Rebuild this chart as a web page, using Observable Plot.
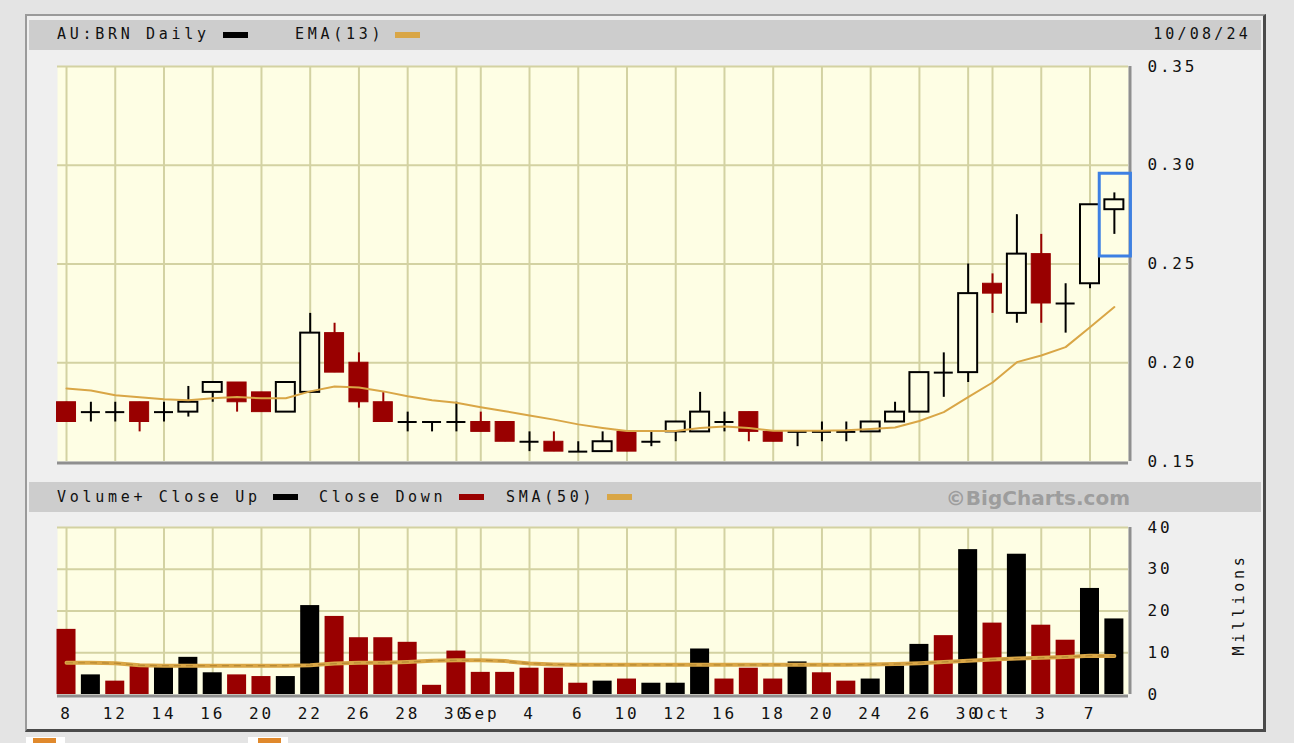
<!DOCTYPE html>
<html>
<head>
<meta charset="utf-8">
<script src="https://cdn.jsdelivr.net/npm/d3@7"></script>
<script src="https://cdn.jsdelivr.net/npm/@observablehq/plot@0.6"></script>
<style>
  html, body { margin: 0; padding: 0; background: #e4e4e4; }
  #wrap { position: relative; width: 1294px; height: 743px; overflow: hidden; background: #e4e4e4; }
  .frame { position: absolute; left: 25px; top: 14px; width: 1236px; height: 713px; background: #efefef;
           border-left: 2px solid #9a9a9a; border-top: 2px solid #9a9a9a; border-right: 3px solid #4a4a4a; border-bottom: 3px solid #4a4a4a; }
  .bar { position: absolute; left: 29px; width: 1232px; height: 30px; background: #cdcdcd; }
  .lbl { position: absolute; font-family: "DejaVu Sans Mono", monospace; font-size: 15px; line-height: 1; letter-spacing: 3.7px; color: #111; white-space: nowrap; }
  .sw { position: absolute; height: 6px; width: 25px; }
  .copy { position: absolute; font-family: "DejaVu Sans", sans-serif; font-weight: bold; font-size: 20px; line-height: 1; color: #9d9d9d; white-space: nowrap; }
  .chart { position: absolute; left: 0; }
  .chart text { font-family: "DejaVu Sans Mono", monospace; font-size: 16px; letter-spacing: 2.8px; fill: #111; }
  .icon { position: absolute; top: 737px; height: 8px; background: #fff; }
  .icon i { position: absolute; top: 1px; height: 8px; background: #e0892c; }
</style>
</head>
<body>
<div id="wrap">
  <div class="frame"></div>
  <div class="bar" style="top:20px"></div>
  <div class="bar" style="top:482px"></div>

  <div class="lbl" style="left:57px;top:27px">AU:BRN Daily</div>
  <div class="sw" style="left:223px;top:32px;background:#000"></div>
  <div class="lbl" style="left:295px;top:27px">EMA(13)</div>
  <div class="sw" style="left:395px;top:32px;background:#d9a646"></div>
  <div class="lbl" style="right:43px;top:27px;letter-spacing:3.2px">10/08/24</div>

  <div class="lbl" style="left:57px;top:490px">Volume+ Close Up</div>
  <div class="sw" style="left:273px;top:494px;background:#000"></div>
  <div class="lbl" style="left:319px;top:490px">Close Down</div>
  <div class="sw" style="left:459px;top:494px;background:#990000"></div>
  <div class="lbl" style="left:506px;top:490px">SMA(50)</div>
  <div class="sw" style="left:607px;top:494px;background:#d9a646"></div>
  <div class="copy" style="right:164px;top:488px">©BigCharts.com</div>

  <div class="lbl" style="left:1188px;top:597px;transform:rotate(-90deg);transform-origin:50% 50%;width:102px;text-align:center">Millions</div>

  <div class="icon" style="left:26px;width:39px"><i style="left:7px;width:23px"></i></div>
  <div class="icon" style="left:248px;width:40px"><i style="left:10px;width:23px"></i></div>
</div>
<script>
// ---------------- data ----------------
const dates = ["Aug 8","Aug 9","Aug 12","Aug 13","Aug 14","Aug 15","Aug 16","Aug 19","Aug 20","Aug 21","Aug 22","Aug 23","Aug 26","Aug 27","Aug 28","Aug 29","Aug 30",
  "Sep 2","Sep 3","Sep 4","Sep 5","Sep 6","Sep 9","Sep 10","Sep 11","Sep 12","Sep 13","Sep 16","Sep 17","Sep 18","Sep 19","Sep 20","Sep 23","Sep 24","Sep 25","Sep 26","Sep 27","Sep 30",
  "Oct 1","Oct 2","Oct 3","Oct 4","Oct 7","Oct 8"];
const open  = [0.18,0.175,0.175,0.18,0.175,0.175,0.185,0.19,0.185,0.175,0.185,0.215,0.20,0.18,0.17,0.17,0.17,
  0.17,0.17,0.16,0.16,0.155,0.155,0.165,0.16,0.165,0.165,0.17,0.175,0.165,0.165,0.165,0.165,0.165,0.17,0.175,0.195,0.195,
  0.24,0.225,0.255,0.23,0.24,0.2775];
const high  = [0.18,0.18,0.18,0.18,0.18,0.188,0.19,0.19,0.185,0.19,0.225,0.22,0.205,0.185,0.175,0.17,0.18,
  0.175,0.17,0.165,0.165,0.16,0.165,0.165,0.165,0.17,0.185,0.175,0.175,0.165,0.165,0.17,0.17,0.17,0.18,0.195,0.205,0.25,
  0.245,0.275,0.265,0.24,0.28,0.286];
const low   = [0.17,0.17,0.17,0.165,0.17,0.1725,0.18,0.175,0.175,0.175,0.185,0.195,0.177,0.17,0.165,0.165,0.165,
  0.165,0.16,0.155,0.155,0.155,0.155,0.155,0.1575,0.16,0.165,0.165,0.16,0.16,0.1575,0.16,0.16,0.165,0.17,0.175,0.1825,0.19,
  0.225,0.22,0.22,0.215,0.2375,0.265];
const close = [0.17,0.175,0.175,0.17,0.175,0.18,0.19,0.18,0.175,0.19,0.215,0.195,0.18,0.17,0.17,0.17,0.17,
  0.165,0.16,0.16,0.155,0.155,0.16,0.155,0.16,0.17,0.175,0.17,0.165,0.16,0.165,0.165,0.165,0.17,0.175,0.195,0.195,0.235,
  0.235,0.255,0.23,0.23,0.28,0.2825];
const ema13 = [0.187,0.186,0.1835,0.1825,0.1815,0.181,0.182,0.1827,0.182,0.182,0.1855,0.188,0.1875,0.1855,0.183,0.181,0.1797,
  0.1775,0.1755,0.1733,0.1712,0.1688,0.167,0.1654,0.1654,0.1654,0.167,0.1677,0.167,0.1656,0.1656,0.1656,0.1658,0.1664,0.1672,0.1705,0.175,0.1826,
  0.19,0.2003,0.2037,0.2079,0.218,0.2282];
const volume = [15.6,4.7,3.2,6.8,6.6,8.9,5.2,4.7,4.3,4.3,21.3,18.7,13.6,13.6,12.5,2.2,10.4,
  5.3,5.3,6.3,6.3,2.7,3.2,3.7,2.7,2.7,10.9,3.7,6.3,3.7,7.8,5.2,3.2,3.7,6.8,12.0,14.1,34.7,
  17.1,33.6,16.6,13.0,25.4,18.1];
const sma50 = [7.6,7.6,7.5,7.0,6.9,6.9,6.9,6.9,6.9,6.9,7.0,7.4,7.6,7.6,7.8,8.1,8.2,
  8.2,8.0,7.4,7.2,7.1,7.1,7.1,7.1,7.1,7.1,7.1,7.1,7.1,7.1,7.1,7.1,7.2,7.3,7.5,7.8,8.1,
  8.4,8.6,8.8,9.0,9.3,9.2];
const tickDates  = ["Aug 8","Aug 12","Aug 14","Aug 16","Aug 20","Aug 22","Aug 26","Aug 28","Aug 30","Sep 2","Sep 4","Sep 6","Sep 10","Sep 12","Sep 16","Sep 18","Sep 20","Sep 24","Sep 26","Sep 30","Oct 1","Oct 3","Oct 7"];
const tickLabels = ["8","12","14","16","20","22","26","28","30","Sep","4","6","10","12","16","18","20","24","26","30","Oct","3","7"];
const priceTicks  = [0.15,0.20,0.25,0.30,0.35];
const volumeTicks = [0,10,20,30,40];
const highlightDate = "Oct 8";

// ---------------- build ----------------
const W = 1294, PL = 57, PR = 1128;
const xDomain = [-0.37, 43.58];
const HW = 0.39;
const BG = "#fefee4", GRID = "#d3d2a2", RED = "#990000", GOLD = "#d9a646", BEVEL = "#8f8f8f";

const candles = dates.map((d, i) => ({i, d, o: open[i], h: high[i], l: low[i], c: close[i], ema: ema13[i],
  v: volume[i], sma: sma50[i], up: i === 0 ? close[i] > open[i] : close[i] > close[i - 1]}));
const upBodies = candles.filter(d => d.c > d.o);
const downBodies = candles.filter(d => d.c < d.o);
const dojis = candles.filter(d => d.c === d.o);
const tickIdx = tickDates.map(t => dates.indexOf(t));
const labelAt = new Map(tickIdx.map((t, k) => [t, tickLabels[k]]));
const hl = candles.filter(d => d.d === highlightDate);

const style = {background: "transparent", overflow: "visible"};

const price = Plot.plot({
  width: W, height: 475,
  marginLeft: PL, marginRight: W - PR, marginTop: 66, marginBottom: 14,
  style,
  x: {domain: xDomain, axis: null},
  y: {domain: [priceTicks[0], priceTicks[priceTicks.length - 1]], ticks: priceTicks, tickFormat: d3.format(".2f"),
      axis: "right", tickSize: 0, tickPadding: 19, label: null},
  marks: [
    Plot.frame({fill: BG, stroke: null}),
    Plot.ruleY(priceTicks.slice(1), {stroke: GRID, strokeWidth: 2}),
    Plot.ruleX(tickIdx, {stroke: GRID, strokeWidth: 2}),
    Plot.ruleX(candles, {x: "i", y1: "l", y2: "h", stroke: d => d.c < d.o ? RED : "#000", strokeWidth: 2}),
    Plot.rect(upBodies, {x1: d => d.i - HW, x2: d => d.i + HW, y1: "o", y2: "c", fill: BG, stroke: "#000", strokeWidth: 2}),
    Plot.rect(downBodies, {x1: d => d.i - HW, x2: d => d.i + HW, y1: "c", y2: "o", fill: RED, stroke: RED, strokeWidth: 1}),
    Plot.ruleY(dojis, {y: "o", x1: d => d.i - HW, x2: d => d.i + HW, stroke: "#000", strokeWidth: 2}),
    Plot.line(candles, {x: "i", y: "ema", stroke: GOLD, strokeWidth: 2, curve: "linear"}),
    Plot.ruleY([priceTicks[0]], {stroke: BEVEL, strokeWidth: 3, dy: 1.5}),
    Plot.ruleX([xDomain[1]], {stroke: BEVEL, strokeWidth: 3, dx: 1.5}),
    Plot.rect(hl, {x1: d => d.i - 0.6, x2: d => d.i + 0.68, y1: d => d.l - 0.0112, y2: d => d.h + 0.0097,
      fill: "none", stroke: "#3d80e3", strokeWidth: 3})
  ]
});
price.classList.add("chart");
price.style.top = "0px";
document.getElementById("wrap").appendChild(price);

const vol = Plot.plot({
  width: W, height: 228,
  marginLeft: PL, marginRight: W - PR, marginTop: 12, marginBottom: 49,
  style,
  x: {domain: xDomain, ticks: tickIdx, tickFormat: i => labelAt.get(i), tickSize: 0, tickPadding: 13, label: null},
  y: {domain: [volumeTicks[0], volumeTicks[volumeTicks.length - 1]], ticks: volumeTicks,
      axis: "right", tickSize: 0, tickPadding: 19, label: null},
  marks: [
    Plot.frame({fill: BG, stroke: null}),
    Plot.ruleY(volumeTicks.slice(1), {stroke: GRID, strokeWidth: 2}),
    Plot.ruleX(tickIdx, {stroke: GRID, strokeWidth: 2}),
    Plot.rect(candles.filter(d => d.up), {x1: d => d.i - HW, x2: d => d.i + HW, y1: 0, y2: "v", fill: "#000"}),
    Plot.rect(candles.filter(d => !d.up), {x1: d => d.i - HW, x2: d => d.i + HW, y1: 0, y2: "v", fill: RED}),
    Plot.line(candles, {x: "i", y: "sma", stroke: GOLD, strokeWidth: 4}),
    Plot.line(candles, {x: "i", y: "sma", stroke: "#a87d2c", strokeWidth: 1.2, strokeDasharray: "6,6", strokeOpacity: 0.7}),
    Plot.ruleY([volumeTicks[0]], {stroke: BEVEL, strokeWidth: 3, dy: 1.5}),
    Plot.ruleX([xDomain[1]], {stroke: BEVEL, strokeWidth: 3, dx: 1.5})
  ]
});
vol.classList.add("chart");
vol.style.top = "515px";
document.getElementById("wrap").appendChild(vol);
</script>
</body>
</html>
